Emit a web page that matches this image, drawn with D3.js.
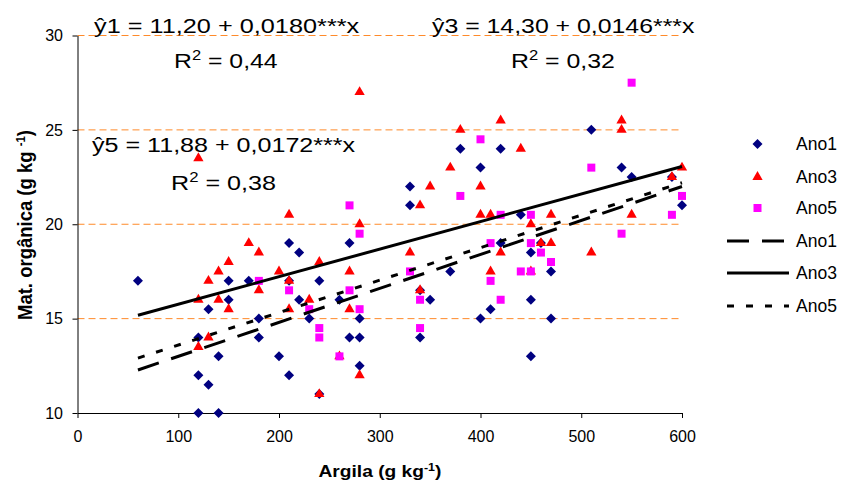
<!DOCTYPE html>
<html><head><meta charset="utf-8">
<script src="https://cdn.jsdelivr.net/npm/d3@7"></script>
<style>html,body{margin:0;padding:0;background:#fff;} svg{display:block;font-family:"Liberation Sans",Arial,sans-serif;}</style>
</head><body><svg id="c" width="843" height="484"></svg>
<script>
// ---- data ----
const xTicks = [0, 100, 200, 300, 400, 500, 600];
const yTicks = [10, 15, 20, 25, 30];
const gridValues = [15, 20, 25, 30];
const seriesNames = ["Ano1", "Ano3", "Ano5"];

const ano1 = [[60,17],[120,14],[120,12],[120,10],[130,15.5],[130,11.5],[140,13],[140,10],[150,17],[150,16],
  [170,17],[180,15],[180,14],[200,13],[210,19],[210,17],[210,12],[220,18.5],[220,16],[230,15],[240,17],[240,11],
  [260,16],[270,19],[270,14],[280,15],[280,14],[280,12.5],[330,22],[330,21],[340,16.5],[340,14],[350,16],
  [370,17.5],[380,24],[400,23],[400,15],[410,15.5],[420,24],[420,19],[440,20.5],[450,18.5],[450,16],[450,13],
  [460,19],[470,17.5],[470,15],[510,25],[540,23],[550,22.5],[590,22.5],[600,21]];
const ano3 = [[120,23.5],[120,16],[120,13.5],[130,17],[130,14],[140,17.5],[140,16],[150,18],[150,15.5],[170,19],
  [180,18.5],[180,16.5],[200,17.5],[210,20.5],[210,17],[210,15.5],[230,16],[240,18],[240,11],[260,13],
  [270,17.5],[270,15.5],[280,27],[280,20],[280,12],[330,18.5],[340,21],[340,16.5],[350,22],[370,23],[380,25],
  [400,22],[400,20.5],[410,20.5],[410,17.5],[420,25.5],[420,18.5],[440,24],[450,20],[450,17.5],[460,19],
  [470,20.5],[470,19],[510,18.5],[540,25.5],[540,25],[550,20.5],[590,22.5],[600,23]];
const ano5 = [[180,17],[210,16.5],[230,15.5],[240,14.5],[240,14],[260,13],[270,21],[270,16.5],[280,19.5],[280,15.5],
  [330,17.5],[340,16],[340,14.5],[380,21.5],[400,24.5],[410,19],[410,17],[420,20.5],[420,16],[440,17.5],
  [450,20.5],[450,19],[450,17.5],[460,18.5],[470,18],[510,23],[540,19.5],[550,27.5],[590,20.5],[600,21.5]];

// trend lines (endpoints of the fitted equations shown on the chart)
const trend1 = [[60,12.28],[600,22.0]];
const trend3 = [[60,15.18],[600,23.06]];
const trend5 = [[60,12.91],[600,22.2]];

const eq1 = "ŷ1 = 11,20 + 0,0180***x", r1 = " = 0,44";
const eq3 = "ŷ3 = 14,30 + 0,0146***x", r3 = " = 0,32";
const eq5 = "ŷ5 = 11,88 + 0,0172***x", r5 = " = 0,38";

// ---- drawing ----
const svg = d3.select("#c");
const x = d3.scaleLinear().domain([0, 600]).range([77.5, 682]);
const y = d3.scaleLinear().domain([10, 30]).range([413, 35.5]);

// grid lines
svg.append("g").selectAll("line").data(gridValues).join("line")
  .attr("x1", x(0)).attr("x2", x(600))
  .attr("y1", d => y(d)).attr("y2", d => y(d))
  .attr("stroke", "#FF8A2A").attr("stroke-width", 1).attr("stroke-dasharray", "7,4");

// axes
const gx = svg.append("g").attr("transform", `translate(0,${y(10)})`)
  .call(d3.axisBottom(x).tickValues(xTicks).tickSize(5).tickSizeOuter(0).tickPadding(13));
const gy = svg.append("g").attr("transform", `translate(${x(0)},0)`)
  .call(d3.axisLeft(y).tickValues(yTicks).tickSize(5).tickSizeOuter(0).tickPadding(9.5));
[gx, gy].forEach(g => {
  g.selectAll("text").attr("font-size", 16).attr("font-family", '"Liberation Sans",Arial,sans-serif').attr("fill", "#000");
  g.selectAll("line,path").attr("stroke", "#000").attr("stroke-width", 1);
});

// markers
const diamond = d3.symbol().type(d3.symbolSquare).size(50)();
const triangle = d3.symbol().type(d3.symbolTriangle).size(46)();
const square = d3.symbol().type(d3.symbolSquare).size(64)();

const pts = svg.append("g");
pts.append("g").selectAll("path").data(ano1).join("path")
  .attr("d", diamond).attr("fill", "#000080")
  .attr("transform", d => `translate(${x(d[0])},${y(d[1])}) rotate(45)`);
pts.append("g").selectAll("path").data(ano3).join("path")
  .attr("d", triangle).attr("fill", "#FF0000")
  .attr("transform", d => `translate(${x(d[0])},${y(d[1])})`);
pts.append("g").selectAll("path").data(ano5).join("path")
  .attr("d", square).attr("fill", "#FF00FF")
  .attr("transform", d => `translate(${x(d[0])},${y(d[1])})`);

// trend lines
const line = d3.line().x(d => x(d[0])).y(d => y(d[1]));
const dashes = ["22,13", null, "7,12"];
[trend1, trend3, trend5].forEach((t, i) => {
  svg.append("path").datum(t).attr("d", line).attr("fill", "none")
    .attr("stroke", "#000").attr("stroke-width", 3)
    .attr("stroke-dasharray", dashes[i]);
});

// text helper: fit a text to a given width, centred at cx on baseline by
function label(opts) {
  const g = svg.append("g");
  const t = g.append("text").attr("font-size", opts.size)
    .attr("font-weight", opts.weight || "normal").attr("fill", "#000");
  opts.parts.forEach(p => {
    const s = t.append("tspan").text(p.t);
    if (p.sup) s.attr("font-size", p.sup).attr("dy", -p.up);
    if (p.down) s.attr("dy", p.down);
  });
  const bb = t.node().getBBox();
  const sx = opts.w ? opts.w / bb.width : 1;
  g.attr("transform", `translate(${opts.cx},${opts.by}) rotate(${opts.rot || 0}) scale(${sx},${opts.sy || 1}) translate(${-bb.x - bb.width / 2},0)`);
}

label({cx: 227, by: 33, size: 21, w: 266, parts: [{t: eq1}]});
label({cx: 226, by: 68, size: 21, w: 104, parts: [{t: "R"}, {t: "2", sup: 14, up: 8}, {t: r1, down: 8}]});
label({cx: 224, by: 152, size: 21, w: 264, parts: [{t: eq5}]});
label({cx: 223.5, by: 190, size: 21, w: 105, parts: [{t: "R"}, {t: "2", sup: 14, up: 8}, {t: r5, down: 8}]});
label({cx: 563.5, by: 32.5, size: 21, w: 263, parts: [{t: eq3}]});
label({cx: 563, by: 68, size: 21, w: 104, parts: [{t: "R"}, {t: "2", sup: 14, up: 8}, {t: r3, down: 8}]});

// axis titles
label({cx: 380, by: 477, size: 17, weight: "bold", w: 123,
  parts: [{t: "Argila (g kg"}, {t: "-1", sup: 11, up: 6}, {t: ")", down: 6}]});
label({cx: 31.5, by: 225, rot: -90, size: 18, weight: "bold", w: 190, sy: 1.15,
  parts: [{t: "Mat. orgânica (g kg "}, {t: "-1", sup: 11, up: 6}, {t: ")", down: 6}]});

// legend
const legRows = [144, 177, 208, 241, 273, 306];
const lg = svg.append("g");
const mk = [
  {d: diamond, fill: "#000080", rot: 45},
  {d: triangle, fill: "#FF0000", rot: 0},
  {d: square, fill: "#FF00FF", rot: 0}
];
mk.forEach((m, i) => {
  lg.append("path").attr("d", m.d).attr("fill", m.fill)
    .attr("transform", `translate(757.5,${legRows[i]}) rotate(${m.rot})`);
});
dashes.forEach((da, i) => {
  lg.append("line").attr("x1", 727).attr("x2", 789)
    .attr("y1", legRows[i + 3]).attr("y2", legRows[i + 3])
    .attr("stroke", "#000").attr("stroke-width", 3).attr("stroke-dasharray", da);
});
[...seriesNames, ...seriesNames].forEach((n, i) => {
  lg.append("text").attr("x", 796).attr("y", legRows[i] + 6.3)
    .attr("font-size", 17.5).attr("fill", "#000").text(n);
});
</script></body></html>
